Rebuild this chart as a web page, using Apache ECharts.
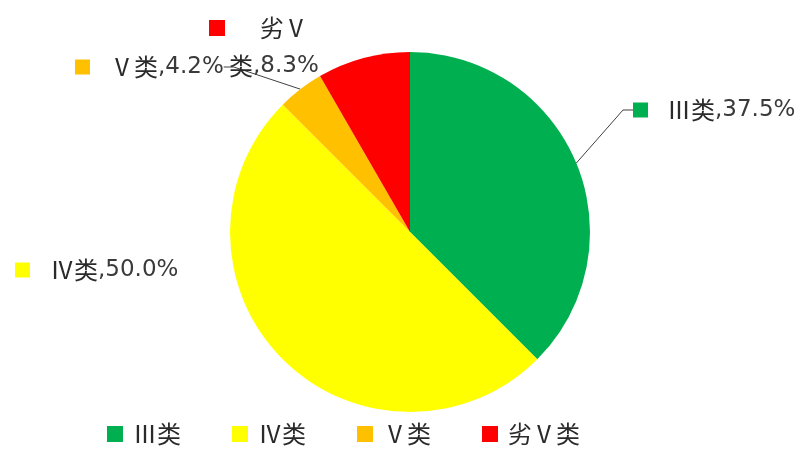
<!DOCTYPE html>
<html><head><meta charset="utf-8">
<script src="https://cdn.jsdelivr.net/npm/echarts@6/dist/echarts.min.js"></script>
<style>html,body{margin:0;padding:0;background:#fff}#c{width:810px;height:450px}</style>
</head><body><div id="c"></div>
<script>
var categories = ['Ⅲ类', 'Ⅳ类', 'Ⅴ类', '劣Ⅴ类'];
var values = [9, 12, 1, 2];
var colors = ['#00B050', '#FFFF00', '#FFC000', '#FF0000'];

var total = values.reduce(function (a, b) { return a + b; }, 0);
var CJK = "'Noto Sans CJK SC',sans-serif";
var NUM = "'DejaVu Sans',sans-serif";
var labelPos = [
  {x: 633, y: 110},
  {x: 15, y: 270},
  {x: 75, y: 67},
  {x: 209, y: 47}
];
var markerSize = [15, 15, 15, 16];
var gapAfterMarker = [19, 20, 20, 35];

var data = categories.map(function (c, i) {
  var pct = (values[i] / total * 100).toFixed(1);
  var fmt;
  if (i === 3) {
    fmt = '{m' + i + '|}{g' + i + '|}{c|劣Ⅴ}\n{g2|}{c|类}{n|,' + pct + '%}';
  } else {
    fmt = '{m' + i + '|}{g' + i + '|}{c|' + c + '}{n|,' + pct + '%}';
  }
  return {
    name: c,
    value: values[i],
    itemStyle: {color: colors[i]},
    label: {formatter: fmt},
    labelLine: {show: i === 0 || i === 2}
  };
});

var rich = {
  c: {fontSize: 24, color: '#2a2a2a', fontFamily: CJK, lineHeight: 38},
  n: {fontSize: 23, color: '#3a3a3a', fontFamily: NUM, lineHeight: 38},
  g2: {width: 34}
};
colors.forEach(function (col, i) {
  rich['m' + i] = {backgroundColor: col, width: markerSize[i], height: markerSize[i]};
  rich['g' + i] = {width: gapAfterMarker[i]};
});

var chart = echarts.init(document.getElementById('c'));
chart.setOption({
  animation: false,
  legend: {
    top: 422,
    left: 107,
    padding: 0,
    itemWidth: 16,
    itemHeight: 16,
    itemGap: 51,
    icon: 'rect',
    textStyle: {fontSize: 24, color: '#2a2a2a', fontFamily: CJK, width: 50, padding: [0, 0, 0, 5], overflow: 'none'},
    data: categories
  },
  series: [{
    type: 'pie',
    center: [410, 232],
    radius: [0, 180],
    startAngle: 90,
    clockwise: true,
    data: data,
    label: {
      show: true,
      position: 'outside',
      rich: rich,
      color: '#333'
    },
    labelLine: {
      show: true,
      length: 20,
      length2: 10,
      lineStyle: {color: '#404040', width: 1}
    },
    labelLayout: function (p) {
      var pos = labelPos[p.dataIndex];
      return {x: pos.x, y: pos.y, align: 'left', verticalAlign: 'middle'};
    }
  }]
});
</script></body></html>
